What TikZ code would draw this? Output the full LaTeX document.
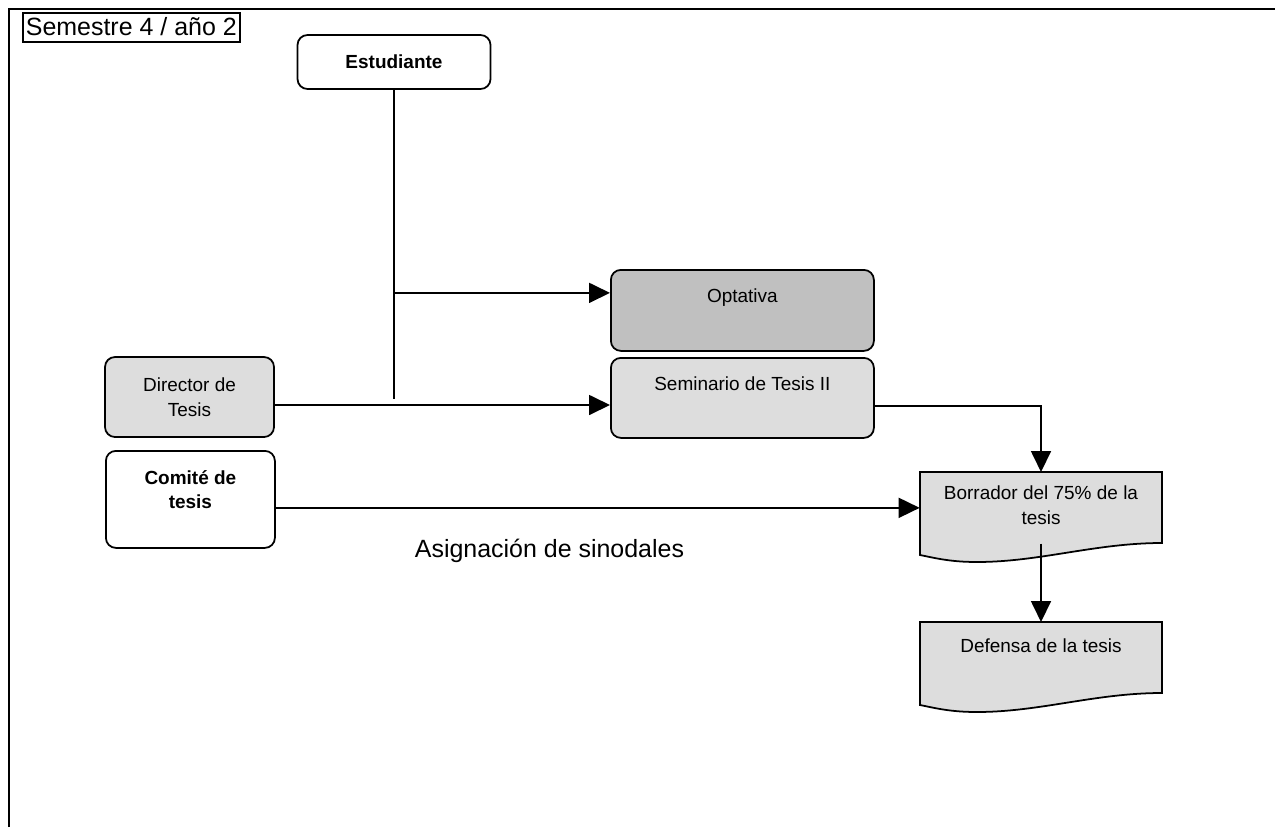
\documentclass[tikz,border=0pt]{standalone}
\usepackage{fontspec}
\setmainfont{Liberation Sans}
\usetikzlibrary{arrows.meta}
\usetikzlibrary{calc}
\definecolor{lightfill}{RGB}{221,221,221}
\definecolor{darkfill}{RGB}{192,192,192}
\newcommand{\smallfont}{\fontsize{10.8}{14}\selectfont}
\newcommand{\bigfont}{\fontsize{14.2}{17}\selectfont}
\tikzstyle{block} = [rectangle, rounded corners=0.2cm, line width=1pt, draw=black, align=center, font=\smallfont]
\tikzstyle{docblock} = [rectangle, minimum width=4.84cm, inner sep=0pt, align=center, font=\smallfont]
\tikzstyle{arrow} = [-{Triangle[length=0.42cm,width=0.4cm]}, line width=1pt]
\tikzstyle{line} = [line width=1pt]
\newcommand{\shift}{0.16cm}
\newcommand{\docshape}[1]{\draw [line, fill=lightfill, shift={(#1)}] (0,0) -- (4.84,0) -- (4.84,-1.42) .. controls (3.5,-1.42) and (2.4,-1.8) .. (1.14,-1.8) .. controls (0.6,-1.8) and (0.3,-1.72) .. (0,-1.66) -- cycle;}

\begin{document}
\begin{tikzpicture}

  \useasboundingbox (0,0) rectangle (25.5,-16.54);
  \coordinate (top) at (0.18,-0.18);
  \coordinate (right) at (25.5,-0.18);
  \coordinate (bottom) at (0.18,-16.54);
  \coordinate (titlePos) at (0.44,-0.24);
  \coordinate (borradorPos) at (18.4,-9.44);
  \coordinate (defensaPos) at (18.4,-12.44);

  % Whole frame
  \draw [line width=1.5pt] (bottom) -- (top) -- (right);

  % Semester title
  \node [draw, line width=1pt, anchor=north west, inner sep=0pt, inner xsep=0.06cm, text height=0.454cm, text depth=0.126cm, font=\bigfont] (semestre) at (titlePos) {Semestre 4 / año 2};

  % Estudiante
  \node [block, minimum width=3.86cm, minimum height=1.08cm, font=\smallfont\bfseries] (estudiante) at (7.88,-1.24) {Estudiante};

  % Optativa
  \node [block, fill=darkfill, anchor=north west, minimum width=5.26cm, inner ysep=0pt, text height=0.66cm, text depth=0.96cm] (optativa) at (12.2,-5.38) {Optativa};

  % Seminario
  \node [block, fill=lightfill, anchor=north west, minimum width=5.26cm, inner ysep=0pt, text height=0.66cm, text depth=0.94cm] (seminario) at (12.2,-7.14) {Seminario de Tesis II};

  % Director
  \node [block, fill=lightfill, minimum width=3.38cm, minimum height=1.6cm] (director) at (3.79,-7.94) {Director de\\Tesis};

  % Comite
  \node [block, anchor=north west, minimum width=3.38cm, inner ysep=0pt, text height=1.16cm, text depth=0.78cm, font=\smallfont\bfseries] (comite) at (2.1,-9.0) {Comité de\\tesis};

  % Borrador and Defensa documents
  \docshape{borradorPos}
  \node [docblock, anchor=north, text height=1.04cm, text depth=0.38cm] (borrador) at ([xshift=2.42cm]borradorPos) {Borrador del 75\% de la\\tesis};
  \docshape{defensaPos}
  \node [docblock, anchor=north, text height=0.6cm, text depth=0.82cm] (defensa) at ([xshift=2.42cm]defensaPos) {Defensa de la tesis};

  % Estudiante line and branch
  \coordinate (estEnd) at ([yshift=-6.18cm]estudiante.south);
  \coordinate (branch) at ([yshift=-4.06cm]estudiante.south);
  \draw [line] (estudiante.south) -- (estEnd);
  \draw [arrow] (branch) -- (branch -| optativa.west);

  % Director to Seminario
  \draw [arrow] ([yshift=-\shift]director.east) -- ([yshift=-\shift]director.east -| seminario.west);

  % Seminario to Borrador
  \draw [arrow] ([yshift=-\shift]seminario.east) -| (borrador.north);

  % Comite to Borrador
  \draw [arrow] (comite.east |- borrador.west) -- (borrador.west);

  % Borrador to Defensa
  \draw [arrow] (borrador.south) -- (defensa.north);

  % Sinodales
  \node [anchor=base, font=\bigfont] (asignacion) at (10.99,-11.14) {Asignación de sinodales};

\end{tikzpicture}
\end{document}
